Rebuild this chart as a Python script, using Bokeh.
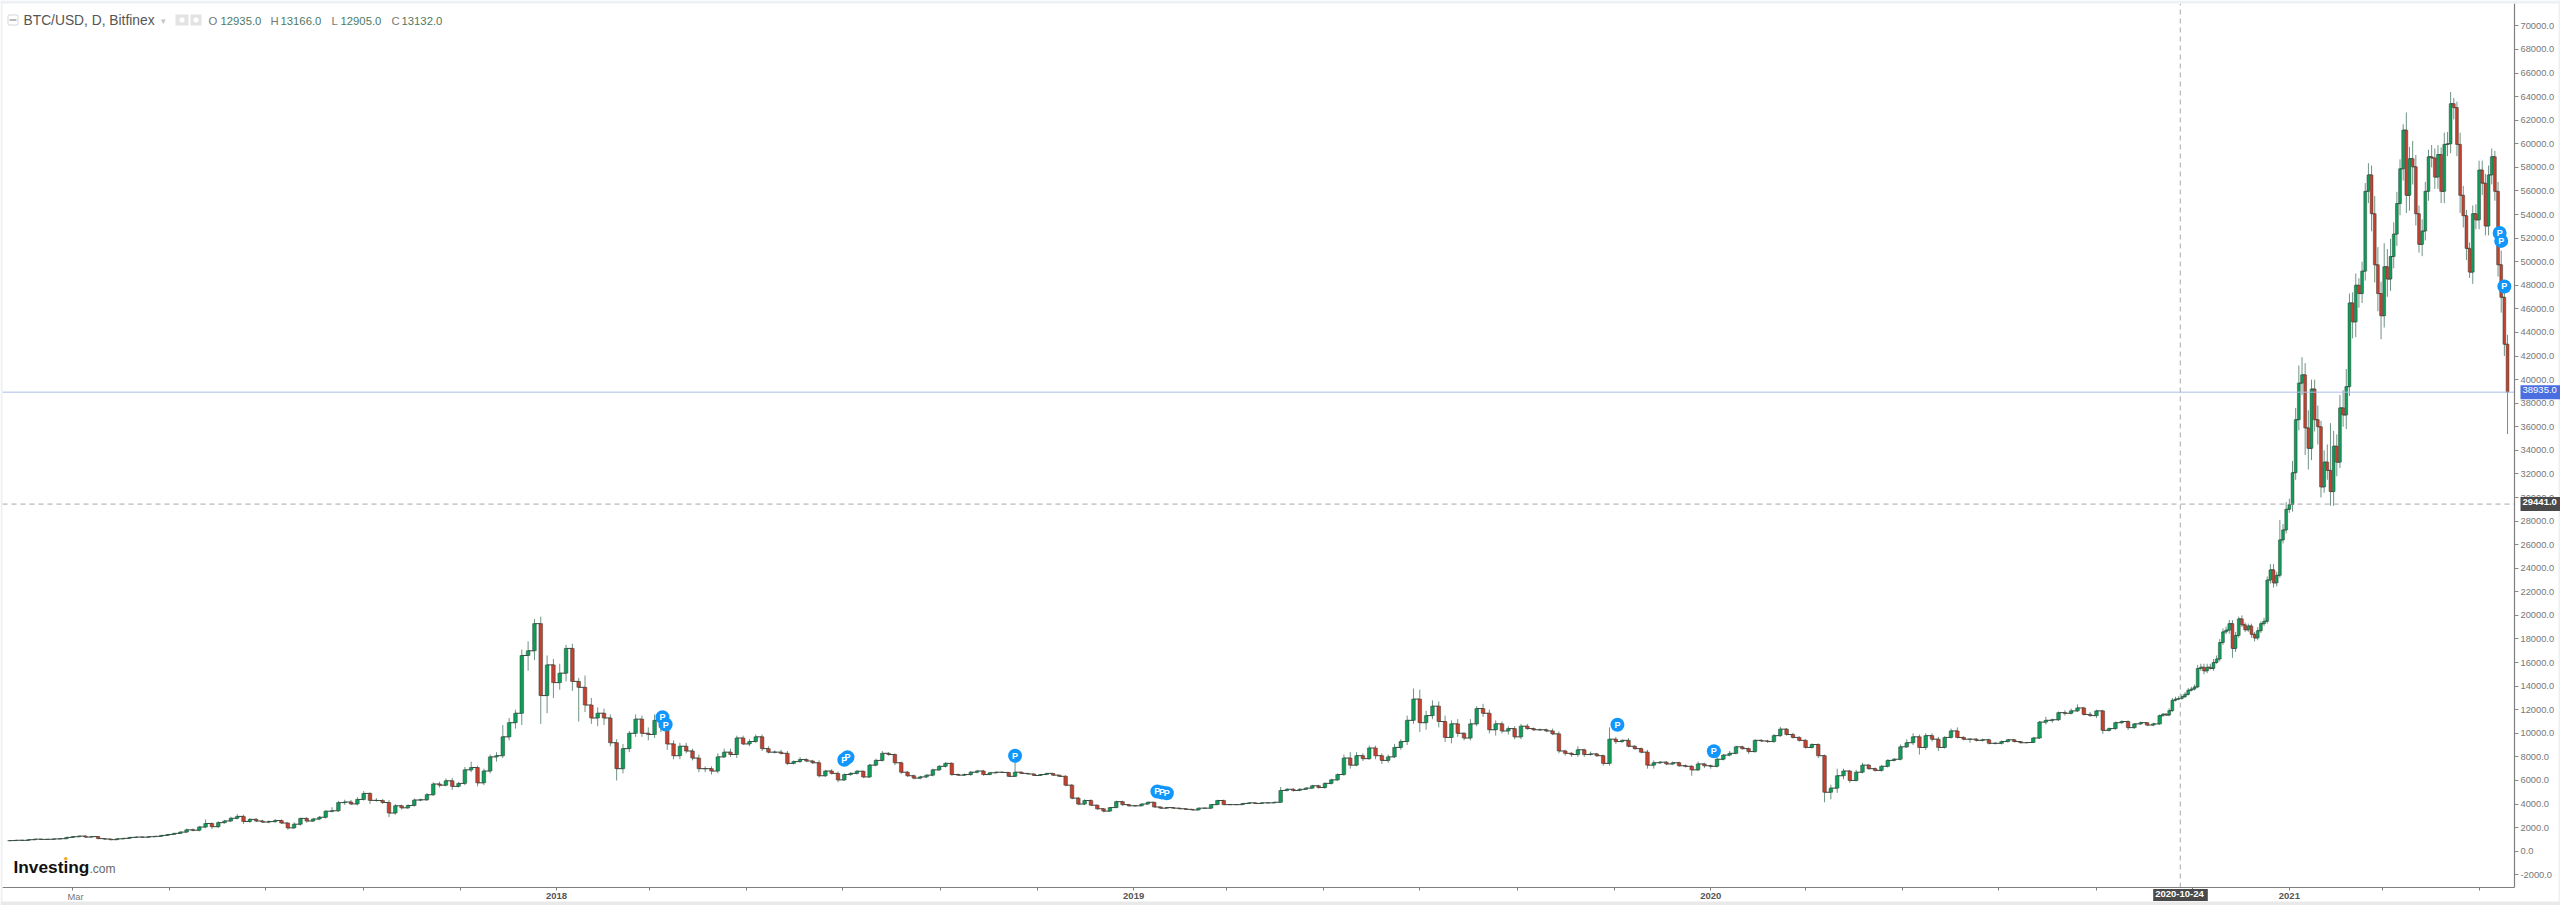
import pandas as pd
from bokeh.core.properties import value
from bokeh.embed import file_html
from bokeh.models import BoxAnnotation, ColumnDataSource, FixedTicker, Label, LinearAxis, NumeralTickFormatter, Range1d
from bokeh.plotting import figure
from bokeh.resources import INLINE

close_2017 = [900,925,920,975,1020,1000,1010,1040,1060,1170,
 1230,1280,1200,1240,1070,1030,980,1050,1090,1170,
 1200,1190,1230,1260,1340,1420,1510,1620,1810,1780,
 2050,2350,2080,2420,2560,2790,2950,2520,2700,2560,
 2470,2510,2600,2390,1980,2290,2780,2560,2730,2880,
 3390,3430,4120,4170,4010,4390,4900,4310,4300,4130,
 3240,3850,3680,3880,4340,4360,4790,5700,5600,5970,
 5500,5750,6900,7100,5800,6800,8000,8100,9700,10900,
 11700,16600,17000,19300,13200,15800,14300]
up_2017 = [20,20,30,30,20,20,20,20,30,40,
 60,50,60,50,40,40,40,40,30,30,
 30,30,30,30,30,40,50,60,100,120,
 100,350,100,120,100,130,200,150,100,120,
 100,100,130,90,60,170,70,100,90,100,
 80,300,150,200,180,200,200,100,200,130,
 200,150,100,100,130,100,150,150,200,200,
 250,120,250,500,150,200,200,300,1000,400,
 300,500,800,400,600,800,500]
down_2017 = [20,20,20,20,20,20,20,20,20,20,
 40,40,80,40,50,40,60,30,30,30,
 30,30,30,30,30,30,30,40,60,100,
 100,100,200,100,80,80,100,200,120,100,
 60,100,100,70,150,80,120,140,90,100,
 120,100,100,200,100,130,100,300,100,130,
 350,150,150,100,100,100,100,100,200,100,
 300,100,150,200,300,200,200,400,200,300,
 500,1000,1300,800,2400,1500,1300]

close_2018 = [15100,17200,14400,13900,12400,11300,11700,11300,9200,7000,
 8700,10000,11200,10000,9900,11100,10500,9100,8100,8900,
 8500,7900,7000,7000,6800,8000,8400,8200,9600,9100,
 9300,9700,8700,8400,8400,8300,7450,7600,7780,7650,
 7500,6400,6800,6600,6050,6500,6600,6780,6300,7300,
 7700,8300,8200,7500,6700,6400,6200,6300,6450,6900,
 7200,7450,6500,6450,6500,6700,6800,6500,6650,6700,
 6680,6350,6700,6600,6550,6420,6500,6600,6450,6350,
 5600,4500,4000,4300,3900,3600,3400,3700,4200,3950,
 3850]
up_2018 = [800,300,400,300,1000,600,500,400,300,300,
 400,200,400,300,500,500,400,300,300,300,
 300,200,300,200,200,300,300,300,200,200,
 200,200,200,200,150,200,200,100,200,100,
 100,200,100,150,150,100,100,100,50,100,
 150,200,100,100,100,100,100,100,50,100,
 100,100,100,100,100,100,100,100,50,50,
 50,50,1000,50,30,30,30,30,30,30,
 100,100,100,100,100,50,50,50,100,80,
 60]
down_2018 = [600,700,800,2900,600,500,700,600,300,1000,
 400,300,300,300,500,300,400,500,300,300,
 200,200,300,300,300,200,100,200,300,100,
 200,100,200,100,100,100,150,100,100,100,
 100,150,100,100,200,100,100,100,100,100,
 100,100,100,200,150,100,100,100,100,100,
 100,100,100,50,50,100,100,100,50,50,
 50,50,50,50,30,50,30,30,50,50,
 100,100,100,100,50,100,100,50,50,100,
 60]

close_2019 = [3850,4000,4150,3750,3650,3700,3650,3600,3550,3500,
 3650,3650,3950,4300,3950,3950,3950,4050,4100,4050,
 4100,4100,4150,5150,5250,5150,5250,5350,5550,5400,
 5750,6050,6500,7900,7300,8100,7850,8750,8100,7700,
 8000,8800,9300,11100,12900,10900,11500,12300,11000,9650,
 10800,10000,9600,10800,12100,11700,10300,10800,10200,10400,
 9700,10600,10400,10300,10300,10200,9950,8500,8300,8200,
 8600,8200,8250,8100,7450,9500,9300,9400,8900,8700,
 8400,7300,7500,7550,7400,7500,7250,7200,6900,7400,
 7250]
up_2019 = [60,40,50,30,30,30,30,30,30,30,
 30,30,50,60,80,20,20,20,30,30,
 20,30,30,300,100,100,80,60,80,80,
 100,100,100,300,500,300,200,200,200,200,
 200,300,200,400,900,800,400,500,400,500,
 300,400,100,400,200,400,300,300,200,200,
 200,200,200,100,100,100,200,200,100,100,
 300,100,200,100,100,1000,200,100,200,100,
 100,200,200,100,100,100,100,100,100,200,
 100]
down_2019 = [60,40,40,50,30,30,30,30,30,30,
 30,30,30,30,50,30,20,20,20,30,
 20,30,30,30,80,100,60,60,50,100,
 100,100,80,100,300,100,200,100,300,300,
 200,100,200,300,300,800,600,300,500,400,
 500,300,200,200,200,300,300,500,200,300,
 200,200,100,100,100,100,100,200,200,200,
 200,200,100,100,200,200,200,100,100,100,
 100,300,300,100,100,100,100,100,500,100,
 200]

close_2020 = [7200,7800,8150,8300,8850,8700,8450,9400,9350,9300,
 9800,10350,9900,9650,9400,8800,9050,8100,5000,5350,
 6400,6800,6000,6700,7300,7000,6850,7200,7700,7800,
 8850,9200,9700,8800,9800,9500,8800,9650,10200,9650,
 9500,9500,9400,9450,9150,9150,9300,9450,9300,9200,
 9220,9600,10950,11100,11150,11750,11700,11900,12150,11600,
 11500,11900,10250,10400,10900,11000,10480,10800,10900,10700,
 10800,11500]
up_2020 = [100,200,100,200,100,100,100,100,100,100,
 150,200,100,150,100,100,100,100,100,300,
 600,200,100,200,200,100,100,100,100,100,
 200,300,300,200,200,200,200,100,200,300,
 100,100,100,100,100,100,100,80,50,50,
 30,80,100,300,100,100,200,200,300,100,
 200,100,100,100,100,100,100,50,100,50,
 100,100]
down_2020 = [200,100,100,100,100,100,200,100,100,100,
 100,100,100,100,100,100,100,200,850,600,
 400,300,200,100,100,100,100,100,100,100,
 100,100,200,600,200,200,300,100,100,100,
 100,300,100,100,100,100,100,80,80,50,
 50,50,80,200,200,100,200,100,100,100,
 100,200,300,100,100,100,200,100,100,100,
 100,100]

close_rally = [11620,11550,11920,12800,12900,12950,13100,13300,13650,13750,
 13930,15500,15600,15300,15600,15500,16000,16300,17700,18600,
 18750,19300,17200,18300,19700,19200,18780,19100,18400,18090,
 18700,19300,19500,23000,23860,22760,23400,26400,27250,29000,
 29400,32100,36600,39700,40400,35900,34170,39200,36600,36000,
 30900,33000,32300,30500,34350,33000,37600,37000,39400,46500,
 44900,48000,47300,49200,55970,57360,54070,49740,47300,45420,
 49570,48530,50440,52340,54930,57880,61160,55630,58740,58050,
 54070,51470,52600,55970,58900,58800,57180,59090,55970,59950,
 60000,63400,63070,59950,55630,53900,51130,49120,54070,53550,
 57770,56660,53030,57360,58900,55970,49740,46980,43000,38935]
up_rally = [100,100,200,200,200,200,200,200,200,200,
 200,300,300,300,300,300,300,300,300,300,
 300,300,300,300,200,300,200,200,200,200,
 300,200,300,300,500,500,300,1700,500,600,
 500,1000,1000,1500,1500,1000,1500,800,800,1200,
 500,1000,1500,4000,1300,1000,1100,1500,1500,800,
 900,1000,600,800,700,1000,800,1500,1500,1000,
 2000,1500,1500,1000,1000,800,500,1500,1000,1500,
 1000,700,1000,800,600,1000,800,800,600,1000,
 1000,1000,500,500,1000,800,500,500,700,800,
 800,800,800,800,700,500,800,1200,800,800]
down_rally = [100,100,100,100,100,100,100,100,100,100,
 100,100,200,300,200,100,200,100,200,200,
 200,300,800,300,200,200,200,200,300,300,
 200,200,200,200,300,400,300,200,300,300,
 300,600,600,900,1000,2300,1800,1000,1000,1500,
 900,500,800,1200,1200,1200,500,1000,1200,800,
 1400,1300,1200,800,800,1000,1500,1500,1500,2000,
 1000,1500,1000,1000,1000,1000,1000,1500,1300,1500,
 1000,700,1000,800,800,800,1000,1000,1000,1000,
 1000,800,1000,1000,1500,1000,1000,500,1000,800,
 800,1000,800,800,800,800,1000,1300,1000,3550]

segments = [
    (19, 4, close_2017, up_2017, down_2017),
    (367, 4, close_2018, up_2018, down_2018),
    (731, 4, close_2019, up_2019, down_2019),
    (1095, 4, close_2020, up_2020, down_2020),
    (1381, 2, close_rally, up_rally, down_rally),
]

marker_day = [432, 434, 547, 549, 655, 745, 748, 751, 1036, 1097, 1594, 1595, 1597]
marker_price = [11366, 10746, 7752, 7973, 8092, 5064, 4979, 4919, 10721, 8482, 52434, 51765, 47898]

y_ticks = list(range(-2000, 70001, 2000))
year_ticks = ["2018-01-01", "2019-01-01", "2020-01-01", "2021-01-01"]
year_labels = ["2018", "2019", "2020", "2021"]
last_price = 38935.0
cross_price = 29441.0
cross_date = "2020-10-24"
ohlc_names = ["O", "H", "L", "C"]
ohlc_values = ["12935.0", "13166.0", "12905.0", "13132.0"]

EPOCH = pd.Timestamp("2017-01-01")
def day(s):
    return (pd.Timestamp(s) - EPOCH).days

rows = {"day": [], "open": [], "close": [], "high": [], "low": [], "w": []}
prev = close_2017[0] - 20
for start, step, closes, ups, downs in segments:
    for i, c in enumerate(closes):
        rows["day"].append(start + i * step)
        rows["open"].append(prev)
        rows["close"].append(c)
        rows["high"].append(max(prev, c) + ups[i])
        rows["low"].append(min(prev, c) - downs[i])
        rows["w"].append(2.3 if step == 4 else 1.8)
        prev = c
df = pd.DataFrame(rows)
df["top"] = df[["open", "close"]].max(axis=1)
df["bottom"] = df[["open", "close"]].min(axis=1)
rise = ColumnDataSource(df[df.close >= df.open])
fall = ColumnDataSource(df[df.close < df.open])
allc = ColumnDataSource(df)

W, H = 2560, 905
X_LEFT, X_RIGHT, Y_BOTTOM, Y_TOP = 14.55, 1603.4, -3079, 71900
p = figure(width=W, height=H, output_backend="svg", toolbar_location=None,
           x_range=Range1d(13.28, 1632.5), y_range=Range1d(-4606, 72155),
           x_axis_location=None, y_axis_location=None,
           min_border_left=0, min_border_top=0, min_border_right=0, min_border_bottom=0,
           background_fill_color="white", border_fill_color="white")
p.outline_line_color = None
p.grid.visible = False

FONT = "Liberation Sans"
ax = LinearAxis(fixed_location=X_RIGHT, bounds=(Y_BOTTOM, Y_TOP))
ax.ticker = FixedTicker(ticks=y_ticks)
ax.formatter = NumeralTickFormatter(format="0.0")
ax.major_label_text_font = FONT
ax.major_label_text_font_size = "9.3px"
ax.major_label_text_color = "#777777"
ax.major_label_standoff = 2
ax.major_tick_in = 0
ax.major_tick_out = 4
ax.minor_tick_line_color = None
ax.major_tick_line_color = "#8a8a8a"
ax.axis_line_color = "#7f7f7f"
ax.axis_line_width = 1.2
p.add_layout(ax, "right")

all_months = [day(d) for d in pd.date_range("2017-03-01", "2021-05-01", freq="2MS")]
year_days = [day(d) for d in year_ticks]
bx = LinearAxis(fixed_location=Y_BOTTOM, bounds=(X_LEFT, X_RIGHT))
bx.ticker = FixedTicker(ticks=year_days, minor_ticks=[m for m in all_months if m not in year_days])
bx.major_label_overrides = dict(zip(year_days, year_labels))
bx.major_label_text_font = FONT
bx.major_label_text_font_size = "9.5px"
bx.major_label_text_font_style = "bold"
bx.major_label_text_color = "#555555"
bx.major_label_standoff = 3
bx.major_tick_in = 0
bx.major_tick_out = 3
bx.minor_tick_in = 0
bx.minor_tick_out = 3
bx.minor_tick_line_color = "#7f7f7f"
bx.major_tick_line_color = "#7f7f7f"
bx.axis_line_color = "#7f7f7f"
bx.axis_line_width = 1.2
p.add_layout(bx, "below")

p.segment("day", "high", "day", "low", source=allc, line_color="#6f9384", line_width=1)
p.step("day", "close", source=allc, mode="after", line_color="#3f4a44", line_width=1)
for src, col in ((rise, "#0f9d5a"), (fall, "#c4402f")):
    p.vbar(x="day", top="top", bottom="bottom", width="w", source=src,
           fill_color=col, line_color="#34443c", line_width=0.5)

p.segment([X_LEFT], [last_price], [X_RIGHT], [last_price], line_color="#a9bbe8", line_width=1)
p.segment([X_LEFT], [cross_price], [X_RIGHT], [cross_price], line_color="#a8a8a8", line_width=1, line_dash="5 4")
p.segment([day(cross_date)], [Y_BOTTOM], [day(cross_date)], [Y_TOP], line_color="#a8a8a8", line_width=1, line_dash="5 4")

msrc = ColumnDataSource(dict(x=marker_day, y=marker_price, t=["P"] * len(marker_day)))
p.scatter("x", "y", source=msrc, size=14, fill_color="#1197fb", line_color=None)
p.text("x", "y", text="t", source=msrc, text_color="white", text_font=value(FONT),
       text_font_style="bold", text_font_size="9px", text_align="center", text_baseline="middle")

def sy(py):
    return H - py

def label(txt, px, py, size, color, style="normal", align="left", bg=None, pad=0):
    p.add_layout(Label(x=px, y=sy(py), x_units="screen", y_units="screen", text=txt,
                       text_font=FONT, text_font_size=size, text_color=color,
                       text_font_style=style, text_align=align, text_baseline="middle",
                       background_fill_color=bg, padding=pad))

def box(l, r, t, b, fill, line=None, radius=0):
    p.add_layout(BoxAnnotation(left=l, right=r, top=sy(t), bottom=sy(b),
                               left_units="screen", right_units="screen",
                               top_units="screen", bottom_units="screen",
                               fill_color=fill, fill_alpha=1, line_color=line, line_width=1,
                               border_radius=radius))

# page frame around the chart
box(0, 2560, 0, 3, "#edf0f4")
box(0, 2, 0, 905, "#edf0f4")
box(2558, 2560, 0, 905, "#edf0f4")
box(0, 2560, 901, 905, "#e9e9e9")

# legend line
box(7.5, 17.5, 14.5, 24.5, "white", "#777777", 1)
box(9, 16, 19, 20, "#777777")
label("BTC/USD, D, Bitfinex", 23, 20, "13.8px", "#555555")
label("▾", 160, 20, "9px", "#c4c4c4")
box(175, 188, 14, 25, "#e3e3e3")
box(190, 201, 14, 25, "#e3e3e3")
box(179, 184, 17, 22, "white", None, 2)
box(193, 198, 17, 22, "white", None, 2)
for name, value_txt, nx, vx in zip(ohlc_names, ohlc_values, [208, 270, 331, 391], [220, 280, 340, 401]):
    label(name, nx, 20, "11.3px", "#777777")
    label(value_txt, vx, 20, "11.3px", "#4d7a63")

# logo
label("Investing", 13, 866, "17.3px", "#111111", "bold")
label(".com", 89, 868, "12px", "#666666")
box(63.5, 67, 856.5, 860, "#f5a623", None, 2)

# x labels
label("Mar", 75, 896, "9.3px", "#777777", align="center")

# badges
label("38935.0", 2520, 391.8, "9.5px", "white", bg="#4a6ee0", pad=(2, 5, 2, 6))
label("29441.0", 2520, 503.6, "9.5px", "white", "bold", bg="#4a4a4a", pad=(2, 5, 2, 6))
label(cross_date, 2180, 894.5, "9.5px", "white", "bold", "center", bg="#4a4a4a", pad=(2, 4, 2, 4))

open("out.html", "w").write(file_html(p, INLINE))
